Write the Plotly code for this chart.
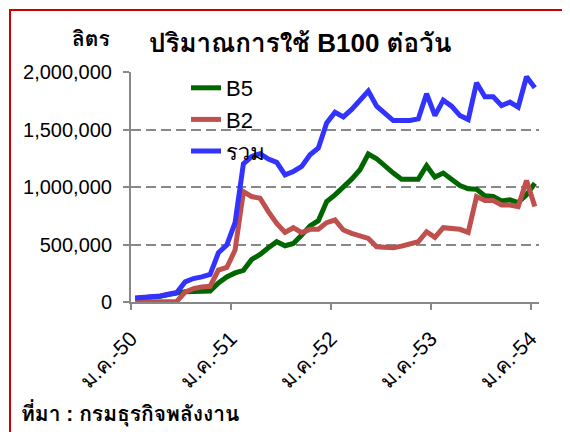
import plotly.graph_objects as go

# monthly data, Jan-2550 .. Jan-2554 (litres per day)
months = [i + 0.5 for i in range(49)]

b5 = [30000, 35000, 45000, 50000, 65000, 80000, 90000, 92000, 92000, 95000,
      166000, 218000, 253000, 276000, 370000, 413000, 471000, 524000, 489000, 509000,
      582000, 661000, 707000, 873000, 932000, 996000, 1068000, 1150000, 1287000, 1246000,
      1179000, 1121000, 1068000, 1068000, 1068000, 1185000, 1086000, 1121000, 1063000, 1013000,
      984000, 981000, 923000, 917000, 879000, 888000, 865000, 932000, 1033000]

b2 = [0, 0, 0, 0, 0, 5000, 87000, 116000, 131000, 137000,
      277000, 300000, 451000, 960000, 917000, 902000, 786000, 684000, 605000, 646000,
      603000, 632000, 632000, 690000, 713000, 626000, 597000, 576000, 553000, 480000,
      472000, 472000, 486000, 504000, 524000, 611000, 562000, 646000, 635000, 632000,
      605000, 917000, 882000, 882000, 844000, 844000, 830000, 1057000, 830000]

total = [35000, 38000, 50000, 52000, 67000, 82000, 175000, 204000, 218000, 239000,
         428000, 495000, 690000, 1202000, 1266000, 1290000, 1243000, 1214000, 1106000, 1135000,
         1179000, 1281000, 1339000, 1557000, 1650000, 1610000, 1674000, 1747000, 1834000, 1703000,
         1645000, 1578000, 1578000, 1578000, 1592000, 1811000, 1621000, 1755000, 1703000, 1621000,
         1586000, 1907000, 1784000, 1784000, 1709000, 1738000, 1694000, 1959000, 1863000]

tick_pos = [0, 12, 24, 36, 48]
tick_text = ["ม.ค.-50", "ม.ค.-51", "ม.ค.-52", "ม.ค.-53", "ม.ค.-54"]
y_ticks = [0, 500000, 1000000, 1500000, 2000000]

# page body has an 8px margin, so the figure is a bit smaller and offset
OFF = 8
W, H = 570 - OFF, 432 - OFF
L, T = 131 - OFF, 72 - OFF
PW, PH = 408, 230
R, B = W - L - PW, H - T - PH

FONT = "Arial, 'Liberation Sans', Tahoma, Loma, Garuda, 'Noto Sans Thai Looped', 'Noto Sans Thai', 'Noto Sans', sans-serif"
GREY = "#888888"


def px(x, y):
    # page pixel position -> paper coords
    return (x - OFF - L) / PW, (T + PH - (y - OFF)) / PH


fig = go.Figure()
fig.add_trace(go.Scatter(x=months, y=b5, name="B5", mode="lines",
                         line=dict(color="#006600", width=5)))
fig.add_trace(go.Scatter(x=months, y=b2, name="B2", mode="lines",
                         line=dict(color="#C0504D", width=5)))
fig.add_trace(go.Scatter(x=months, y=total, name="รวม", mode="lines",
                         line=dict(color="#3333FF", width=5)))

x0, y0 = px(10, 10)
x1, y1 = px(567, 445)
fig.add_shape(type="rect", xref="paper", yref="paper", x0=x0, y0=y1, x1=x1, y1=y0,
              line=dict(color="#CC0000", width=2), layer="above")

tx, ty = px(300, 43)
fig.add_annotation(x=tx, y=ty, xref="paper", yref="paper", showarrow=False,
                   xanchor="center", yanchor="middle",
                   text="<b>ปริมาณการใช้ B100 ต่อวัน</b>", font=dict(size=26, color="black"))
ux, uy = px(91, 39)
fig.add_annotation(x=ux, y=uy, xref="paper", yref="paper", showarrow=False,
                   xanchor="center", yanchor="middle",
                   text="<b>ลิตร</b>", font=dict(size=21, color="black"))
sx, sy = px(19, 413)
fig.add_annotation(x=sx, y=sy, xref="paper", yref="paper", showarrow=False,
                   xanchor="left", yanchor="middle",
                   text="<b>ที่มา : กรมธุรกิจพลังงาน</b>", font=dict(size=21, color="black"))

lx, ly = px(186, 67)
fig.update_layout(
    width=W, height=H,
    margin=dict(l=L, r=R, t=T, b=B, autoexpand=False),
    paper_bgcolor="white", plot_bgcolor="white",
    font=dict(family=FONT, size=20, color="black"),
    showlegend=True,
    legend=dict(x=lx, y=ly, xanchor="left", yanchor="top", bgcolor="rgba(0,0,0,0)",
                font=dict(size=22), tracegroupgap=0),
    xaxis=dict(range=[0, 49], tickmode="array", tickvals=tick_pos, ticktext=tick_text,
               tickangle=-45, ticks="outside", ticklen=6, tickwidth=2, tickcolor=GREY,
               ticklabelstandoff=8,
               showline=True, linecolor=GREY, linewidth=2, showgrid=False, zeroline=False,
               tickfont=dict(size=21), automargin=False),
    yaxis=dict(range=[0, 2000000], tickmode="array", tickvals=y_ticks, tickformat=",d",
               ticks="outside", ticklen=6, tickwidth=2, tickcolor=GREY, ticklabelstandoff=7,
               showline=True, linecolor=GREY, linewidth=2, showgrid=True, gridcolor=GREY,
               gridwidth=2, griddash="10px,5px", zeroline=False, automargin=False),
)

fig.write_html("out.html")
